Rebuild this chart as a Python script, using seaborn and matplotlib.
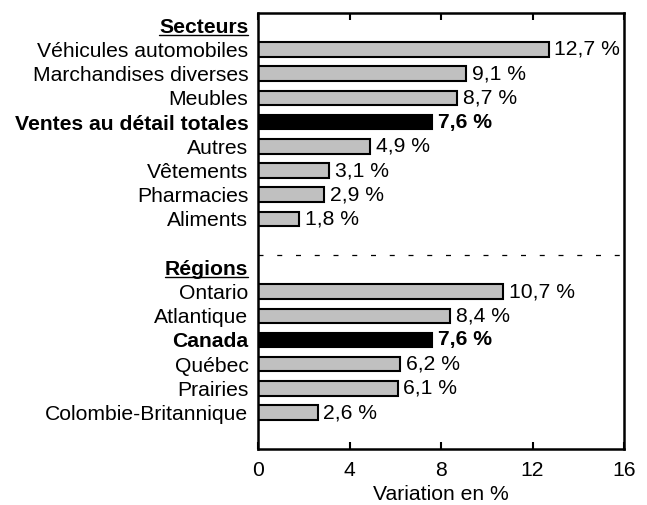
import matplotlib
matplotlib.use("Agg")
import matplotlib.pyplot as plt
import seaborn as sns
import pandas as pd
import numpy as np
from matplotlib.lines import Line2D

# ---- data ----
secteurs = ["Véhicules automobiles", "Marchandises diverses", "Meubles",
            "Ventes au détail totales", "Autres", "Vêtements", "Pharmacies", "Aliments"]
secteurs_vals = [12.7, 9.1, 8.7, 7.6, 4.9, 3.1, 2.9, 1.8]
regions = ["Ontario", "Atlantique", "Canada", "Québec", "Prairies", "Colombie-Britannique"]
regions_vals = [10.7, 8.4, 7.6, 6.2, 6.1, 2.6]
totals = ["Ventes au détail totales", "Canada"]
headers = ["Secteurs", "Régions"]
xticks = [0, 4, 8, 12, 16]
xlabel = "Variation en %"

sns.set_theme(style="white")
plt.rcParams['font.family'] = ['Liberation Sans', 'DejaVu Sans']
plt.rcParams['text.color'] = 'black'
plt.rcParams['axes.labelcolor'] = 'black'
plt.rcParams['xtick.color'] = 'black'
plt.rcParams['ytick.color'] = 'black'

order = [headers[0]] + secteurs + [" "] + [headers[1]] + regions
vals = [np.nan] + secteurs_vals + [np.nan] + [np.nan] + regions_vals
kind = ["total" if l in totals else "normal" for l in order]
df = pd.DataFrame({"label": order, "value": vals, "kind": kind})

fig = plt.figure(figsize=(6.47, 5.05), dpi=100)
ax = fig.add_axes([0.399, 0.111, 0.5655, 0.863])

sns.barplot(data=df.dropna(), x="value", y="label", order=order, hue="kind",
            palette={"normal": "#c0c0c0", "total": "black"}, dodge=False,
            edgecolor="black", linewidth=1.5, width=0.6, legend=False, ax=ax,
            orient="h")

fs = 15.2
ax.set_xlim(xticks[0], xticks[-1])
ax.set_ylim(len(order) + 0.5, -0.5)
ax.set_xticks(xticks)
ax.set_xticklabels([str(t) for t in xticks], fontsize=fs)
ax.set_xlabel(xlabel, fontsize=fs, labelpad=3, color="black")
ax.set_ylabel("")
ax.tick_params(axis="y", length=0, pad=7, labelsize=fs, labelcolor="black")
ax.tick_params(axis="x", direction="in", length=5, width=1.5, top=True, bottom=True,
               labeltop=False, pad=9, color="black", labelcolor="black")
for s in ax.spines.values():
    s.set_visible(True)
    s.set_color("black")
    s.set_linewidth(1.8)

for t in ax.get_yticklabels():
    txt = t.get_text()
    t.set_color("black")
    if txt in totals or txt in headers:
        t.set_fontweight("bold")

# value labels
for i, (l, v) in enumerate(zip(order, vals)):
    if np.isnan(v):
        continue
    w = "bold" if l in totals else "normal"
    ax.text(v + 0.25, i, f"{v:.1f} %".replace(".", ","), va="center", ha="left",
            fontsize=fs, fontweight=w, color="black")

# dashed separator
ax.axhline(order.index(" ") + 0.5, color="black", lw=0.9, ls=(0, (4, 11)))

# underline headers
fig.canvas.draw()
r = fig.canvas.get_renderer()
for t in ax.get_yticklabels():
    if t.get_text() in headers:
        bb = t.get_window_extent(r)
        y = bb.y0 + 2
        fig.add_artist(Line2D([bb.x0 / fig.bbox.width, bb.x1 / fig.bbox.width],
                              [y / fig.bbox.height, y / fig.bbox.height],
                              color="black", lw=1.0))

fig.savefig("out.png", dpi=100)
